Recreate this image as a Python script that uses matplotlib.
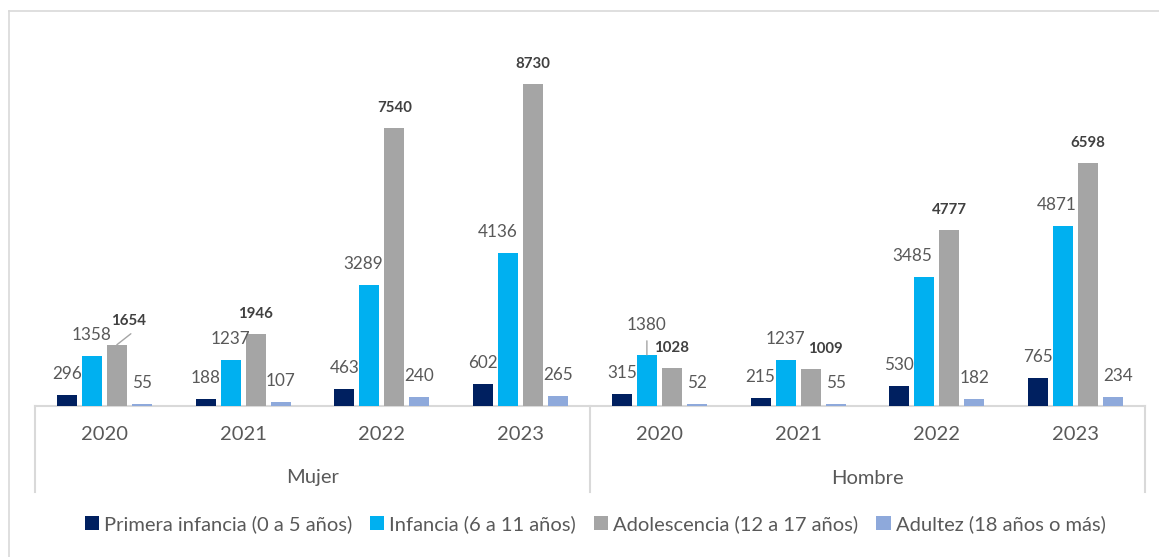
import matplotlib
matplotlib.use("Agg")
from matplotlib import pyplot as plt
from matplotlib.patches import Patch
from matplotlib.lines import Line2D
import numpy as np

plt.rcParams['font.family'] = ['Lato', 'DejaVu Sans']

# datos
years = ['2020', '2021', '2022', '2023', '2020', '2021', '2022', '2023']
groups = ['Mujer', 'Hombre']
series_names = ['Primera infancia (0 a 5 años)', 'Infancia (6 a 11 años)',
                'Adolescencia (12 a 17 años)', 'Adultez (18 años o más)']
primera = [296, 188, 463, 602, 315, 215, 530, 765]
infancia = [1358, 1237, 3289, 4136, 1380, 1237, 3485, 4871]
adolescencia = [1654, 1946, 7540, 8730, 1028, 1009, 4777, 6598]
adultez = [55, 107, 240, 265, 52, 55, 182, 234]

colors = ['#002060', '#00B0F0', '#A5A5A5', '#8EA9DB']
txt_color = '#595959'
line_color = '#D9D9D9'

W, H = 1159, 557
fig = plt.figure(figsize=(W / 100, H / 100), dpi=100)

# marco del gráfico (recortado a la derecha y abajo)
fig.add_artist(Line2D([9 / W, 1], [1 - 11 / H, 1 - 11 / H], color=line_color, lw=1.2))
fig.add_artist(Line2D([9 / W, 9 / W], [0, 1 - 11 / H], color=line_color, lw=1.2))

base_y = 405.7
ax = fig.add_axes([35 / W, 1 - base_y / H, 1110 / W, 368.5 / H])
ax.set_xlim(-0.5, 7.5)
ax.set_ylim(0, 10000)
ax.axis('off')

x = np.arange(len(years))
step = 0.18
width = 0.144
data = [primera, infancia, adolescencia, adultez]
offsets = [-1.5, -0.5, 0.5, 1.5]

# ajustes de etiquetas (px): (serie, categoria) -> (dx, dy)
nudges = {
    (2, 0): (12, 24), (1, 4): (0, 30), (2, 5): (15, 20),
    (1, 2): (-6, 21), (1, 3): (-10, 21), (1, 6): (-12, 21),
    (1, 7): (-6, 21), (3, 7): (5, 21),
}

for s, vals in enumerate(data):
    xs = x + offsets[s] * step
    ax.bar(xs, vals, width=width, color=colors[s], zorder=2)
    for i, v in enumerate(vals):
        dx, dy = nudges.get((s, i), (0, 21 if s != 2 else 20))
        if s == 2:
            ax.annotate(str(v), xy=(xs[i], v), xytext=(dx, dy), textcoords='offset pixels',
                        ha='center', va='center', fontsize=10.8, fontweight='bold',
                        color='#404040', annotation_clip=False)
        else:
            ax.annotate(str(v), xy=(xs[i], v), xytext=(dx, dy), textcoords='offset pixels',
                        ha='center', va='center', fontsize=12.3, color=txt_color,
                        annotation_clip=False)

# líneas guía
ax.annotate('', xy=(x[0] + 0.5 * step, adolescencia[0]), xytext=(14, 11),
            textcoords='offset pixels',
            arrowprops=dict(arrowstyle='-', color='#A5A5A5', lw=1, shrinkA=0, shrinkB=0))
ax.annotate('', xy=(x[4] - 0.5 * step, infancia[4]), xytext=(0, 14),
            textcoords='offset pixels',
            arrowprops=dict(arrowstyle='-', color='#A5A5A5', lw=1, shrinkA=0, shrinkB=0))

# eje de categorías de dos niveles
tr = ax.get_xaxis_transform()
ax.plot([-0.5, 7.5], [0, 0], transform=tr, color=line_color, lw=1.5, clip_on=False, zorder=1)
y_low = -(492 - base_y) / 368.5
for xv in [-0.5, 3.5, 7.5]:
    ax.plot([xv, xv], [0, y_low], transform=tr, color=line_color, lw=1.5, clip_on=False)
for i, yr in enumerate(years):
    ax.text(i, -(435 - base_y) / 368.5, yr, transform=tr, ha='center', va='center',
            fontsize=14.5, color=txt_color)
for g, name in enumerate(groups):
    ax.text(1.5 + 4 * g, -(478 - base_y) / 368.5, name, transform=tr, ha='center',
            va='center', fontsize=14.5, color=txt_color)

handles = [Patch(facecolor=c, edgecolor='none') for c in colors]
leg = fig.legend(handles, series_names, loc='center', bbox_to_anchor=(595 / W, 1 - 524 / H),
                 ncol=4, frameon=False, fontsize=14.5, handlelength=0.7, handleheight=0.7,
                 handletextpad=0.25, columnspacing=0.9, borderpad=0)
for t in leg.get_texts():
    t.set_color(txt_color)

fig.savefig('out.png', dpi=100, facecolor='white')
